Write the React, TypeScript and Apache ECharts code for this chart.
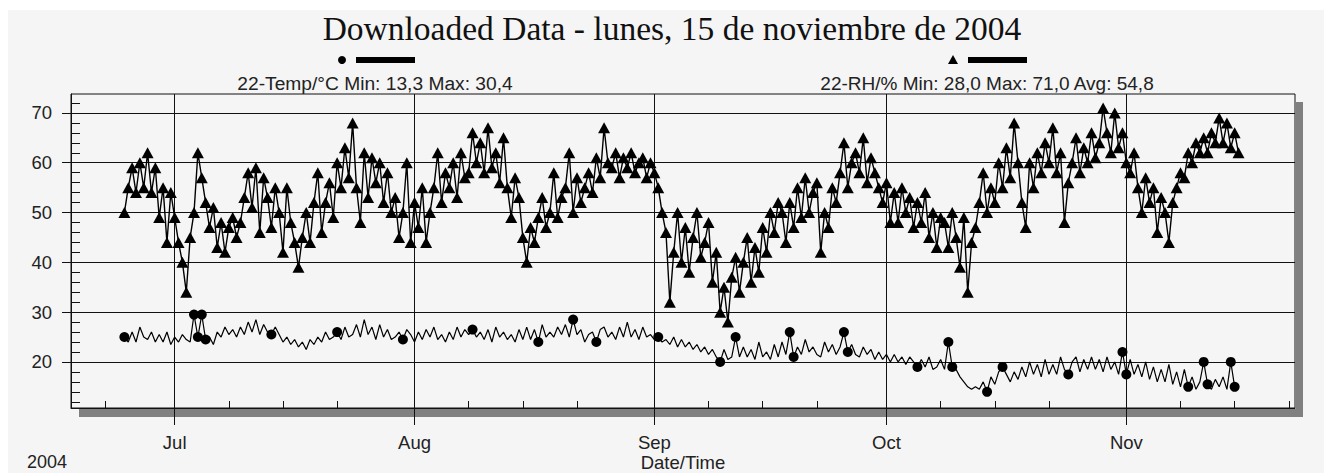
import React, { useEffect, useRef } from "react";
import * as echarts from "echarts";

const TITLE = "Downloaded Data - lunes, 15 de noviembre de 2004";
const TEMP_LEGEND = "22-Temp/°C Min: 13,3 Max: 30,4";
const RH_LEGEND = "22-RH/% Min: 28,0 Max: 71,0 Avg: 54,8";
const YEAR_LABEL = "2004";
const X_TITLE = "Date/Time";

// x values are days counted from 1 July 2004 (0 = Jul 1)
const START_DAY = -6.5;
const STEP = 0.5;
const X_MIN = -13.4;
const X_MAX = 144.8;
const Y_MIN = 10.75;
const Y_MAX = 73.8;

const monthLabels = ["Jul", "Aug", "Sep", "Oct", "Nov"];
const monthDays = [0, 31, 62, 92, 123];
const weekDays = [-9, 7, 14, 21, 38, 45, 52, 69, 76, 83, 99, 106, 113, 130, 137, 144];
const yMajor = [20, 30, 40, 50, 60, 70];
const yMinor = [12, 14, 16, 18, 22, 24, 26, 28, 32, 34, 36, 38, 42, 44, 46, 48, 52, 54, 56, 58, 62, 64, 66, 68, 72];

const rhValues = [
  50, 55, 59, 54, 60, 55, 62, 54, 59, 49,
  55, 44, 54, 49, 44, 40, 34, 45, 50, 62,
  57, 52, 47, 51, 43, 48, 42, 47, 49, 45,
  48, 53, 58, 51, 59, 46, 57, 53, 47, 55,
  50, 42, 55, 48, 44, 39, 45, 50, 44, 52,
  58, 46, 52, 56, 49, 60, 55, 63, 57, 68,
  55, 48, 62, 53, 61, 56, 60, 52, 58, 50,
  53, 45, 50, 60, 44, 52, 47, 55, 44, 50,
  55, 62, 52, 58, 55, 60, 53, 62, 57, 58,
  66, 60, 64, 58, 67, 59, 62, 56, 65, 55,
  49, 57, 53, 45, 40, 47, 44, 49, 53, 47,
  50, 58, 49, 53, 55, 62, 50, 57, 52, 55,
  58, 54, 61, 57, 67, 60, 59, 62, 57, 61,
  59, 62, 58, 60, 61, 57, 60, 58, 55, 50,
  46, 32, 42, 50, 40, 47, 38, 45, 50, 41,
  44, 48, 36, 42, 30, 35, 28, 37, 41, 34,
  40, 45, 36, 43, 38, 47, 42, 50, 46, 52,
  50, 44, 52, 47, 55, 49, 57, 50, 54, 56,
  42, 50, 47, 55, 52, 58, 64, 55, 60, 62,
  58, 65, 56, 61, 58, 55, 52, 56, 48, 54,
  48, 55, 50, 53, 47, 52, 48, 54, 45, 50,
  43, 49, 48, 43, 50, 45, 39, 49, 34, 44,
  47, 52, 58, 50, 55, 52, 60, 55, 63, 57,
  68, 60, 52, 47, 60, 55, 62, 58, 64, 60,
  67, 58, 62, 48, 56, 60, 65, 58, 63, 60,
  66, 61, 64, 71, 66, 62, 70, 63, 66, 60,
  58, 62, 55, 50, 57, 52, 55, 46, 53, 50,
  44, 52, 55, 58, 57, 62, 60, 64, 62, 65,
  62, 66, 64, 69, 64, 68, 63, 66, 62,
];

const tempValues = [
  25, 24, 26, 24, 27, 25, 24.5, 26, 24, 25.5,
  24, 26, 23.5, 25, 24, 25.5, 24.5, 24, 29.5, 25,
  29.5, 24.5, 25, 23.5, 26, 25, 27, 25.5, 26.5, 25,
  27, 25.5, 28, 26, 28.5, 25.5, 27.5, 26, 25.5, 27,
  25.5, 24, 25, 23.5, 24.5, 23, 24, 22.5, 24.5, 23.5,
  25, 24, 26, 24.5, 25, 26, 24.5, 27, 25, 25.5,
  27.5, 25, 28.5, 25.5, 27, 24.5, 27.5, 25, 26.5, 24.5,
  25, 26, 24.5, 26.5, 25.5, 24, 26, 24.5, 26.5, 25,
  27, 24.5, 25.5, 24, 26, 24.5, 27, 25, 26.5, 25.5,
  26.5, 25, 26, 24.5, 26.5, 24, 27, 25, 26, 24.5,
  25.5, 24, 26.5, 24.5, 27, 24.5, 26.5, 24, 27.5, 25,
  26, 25, 27, 25.5, 27.5, 25, 28.5, 25.5, 26.5, 24,
  25.5, 26, 24, 26.5, 27, 25, 26, 24.5, 27, 25,
  28, 25, 26.5, 24.5, 27, 25, 25.5, 24.5, 25, 24,
  24.5, 23.5, 25, 23, 24.5, 23, 24, 22.5, 23.5, 22,
  23, 21.5, 22.5, 21, 20, 22.5, 20.5, 21, 25, 21,
  23, 21, 22.5, 20.5, 24, 21, 22, 20.5, 23.5, 21,
  24, 21.5, 26, 21, 23, 21.5, 24.5, 22, 23, 21.5,
  21, 24, 22, 23.5, 21.5, 23, 26, 22, 23.5, 21.5,
  21, 23, 21.5, 22.5, 20.5, 22, 20.5, 21.5, 20, 21.5,
  20, 21, 19.5, 21, 20, 19, 20.5, 19, 21, 18.5,
  19, 20.5, 18.5, 24, 19, 18.5, 17, 16, 15, 14.5,
  15, 14.5, 16, 14, 17, 15.5, 18, 19, 17.5, 16,
  18, 16.5, 19, 17, 20, 17.5, 19.5, 17, 20.5, 17.5,
  19.5, 17.5, 21, 18.5, 17.5, 20, 21, 18, 20.5, 18.5,
  21, 18.5, 20.5, 18, 21, 18.5, 20, 17.5, 22, 17.5,
  20.5, 17.5, 19.5, 17, 20, 16.5, 19, 16, 18.5, 16,
  19.5, 15.5, 18, 15, 18.5, 15, 17, 14.5, 16, 20,
  15.5, 14.5, 16.5, 15, 17, 14.5, 20, 15, 14.5,
];

const tempMarkerDays = [
  -6.5, 2.5, 3, 3.5, 4, 12.5, 21, 29.5, 38.5, 47, 51.5, 54.5, 62.5, 70.5, 72.5,
  79.5, 80, 86.5, 87, 96, 100, 100.5, 105, 107, 115.5, 122.5, 123, 131, 133, 133.5, 136.5, 137,
];

const FONT = "'Liberation Sans', Arial, sans-serif";
const INK = "#111";
const TXT = "#222";

export default function App() {
  const ref = useRef<HTMLDivElement>(null);
  useEffect(() => {
    if (!ref.current) return;
    const chart = echarts.init(ref.current, null, { renderer: "svg" });
    const rhData = rhValues.map((v, i) => [START_DAY + i * STEP, v]);
    const tempData = tempValues.map((v, i) => [START_DAY + i * STEP, v]);
    const markerSet = new Set(tempMarkerDays);

    chart.setOption({
      animation: false,
      backgroundColor: "transparent",
      grid: { left: 71, top: 94, width: 1224, height: 314, show: true, borderColor: INK, borderWidth: 1, backgroundColor: "transparent" },
      xAxis: [
        {
          type: "value", min: X_MIN, max: X_MAX, position: "bottom",
          axisLine: { show: true, onZero: false, lineStyle: { color: INK } },
          axisTick: { show: true, inside: false, length: 17, customValues: monthDays, lineStyle: { color: INK } },
          splitLine: { show: true, lineStyle: { color: INK, width: 1 } },
          axisLabel: {
            customValues: monthDays,
            formatter: (v: number) => monthLabels[monthDays.indexOf(v)] ?? "",
            margin: 25, fontSize: 18.5, color: TXT, fontFamily: FONT,
          },
        },
        {
          type: "value", min: X_MIN, max: X_MAX, position: "bottom",
          axisLine: { show: false, onZero: false },
          axisTick: { show: true, inside: true, length: 7, customValues: weekDays, lineStyle: { color: INK } },
          splitLine: { show: false },
          axisLabel: { show: false },
        },
      ],
      yAxis: [
        {
          type: "value", min: Y_MIN, max: Y_MAX, position: "left",
          axisLine: { show: true, onZero: false, lineStyle: { color: INK } },
          axisTick: { show: true, inside: false, length: 9, customValues: yMajor, lineStyle: { color: INK } },
          splitLine: { show: true, lineStyle: { color: INK, width: 1 } },
          axisLabel: { customValues: yMajor, margin: 19, fontSize: 18.5, color: TXT, fontFamily: FONT },
        },
        {
          type: "value", min: Y_MIN, max: Y_MAX, position: "left",
          axisLine: { show: false, onZero: false },
          axisTick: { show: true, inside: true, length: 9, customValues: yMinor, lineStyle: { color: INK } },
          splitLine: { show: false },
          axisLabel: { show: false },
        },
      ],
      graphic: [
        { type: "rect", z: -10, silent: true, shape: { x: 8, y: 10, width: 1316, height: 463 }, style: { fill: "#f5f5f5" } },
        { type: "rect", z: -5, silent: true, shape: { x: 1296, y: 102, width: 7, height: 315 }, style: { fill: "#808080" } },
        { type: "rect", z: -5, silent: true, shape: { x: 79, y: 409, width: 1224, height: 8 }, style: { fill: "#808080" } },
        { type: "text", x: 672, y: 28, style: { text: TITLE, fontFamily: "'Liberation Serif', 'Times New Roman', serif", fontSize: 33.5, fill: "#111", align: "center", verticalAlign: "middle" } },
        { type: "circle", shape: { cx: 342, cy: 60, r: 4 }, style: { fill: "#000" } },
        { type: "rect", shape: { x: 356, y: 57, width: 59, height: 6 }, style: { fill: "#000" } },
        { type: "text", x: 375, y: 83, style: { text: TEMP_LEGEND, fontFamily: FONT, fontSize: 19.2, fill: TXT, align: "center", verticalAlign: "middle" } },
        { type: "polygon", shape: { points: [[953, 55], [948, 64], [958, 64]] }, style: { fill: "#000" } },
        { type: "rect", shape: { x: 968, y: 57, width: 59, height: 6 }, style: { fill: "#000" } },
        { type: "text", x: 987, y: 83, style: { text: RH_LEGEND, fontFamily: FONT, fontSize: 19, fill: TXT, align: "center", verticalAlign: "middle" } },
        { type: "text", x: 27, y: 462, style: { text: YEAR_LABEL, fontFamily: FONT, fontSize: 18, fill: TXT, align: "left", verticalAlign: "middle" } },
        { type: "text", x: 683, y: 462, style: { text: X_TITLE, fontFamily: FONT, fontSize: 18.5, fill: TXT, align: "center", verticalAlign: "middle" } },
      ],
      series: [
        {
          name: "22-Temp/°C", type: "line", xAxisIndex: 0, yAxisIndex: 0, data: tempData,
          showAllSymbol: true,
          symbol: (val: number[]) => (markerSet.has(val[0]) ? "circle" : "none"),
          symbolSize: 10,
          lineStyle: { color: "#000", width: 1.2 },
          itemStyle: { color: "#000", borderWidth: 0 },
          z: 3,
        },
        {
          name: "22-RH/%", type: "line", xAxisIndex: 0, yAxisIndex: 0, data: rhData,
          showAllSymbol: true,
          symbol: "triangle",
          symbolSize: [12, 11],
          lineStyle: { color: "#000", width: 1.4 },
          itemStyle: { color: "#000", borderWidth: 0 },
          z: 3,
        },
      ],
    });
    return () => chart.dispose();
  }, []);
  return (
    <div
      ref={ref}
      style={{ position: "absolute", left: 0, top: 0, width: 1324, height: 473, background: "#fff" }}
    />
  );
}
